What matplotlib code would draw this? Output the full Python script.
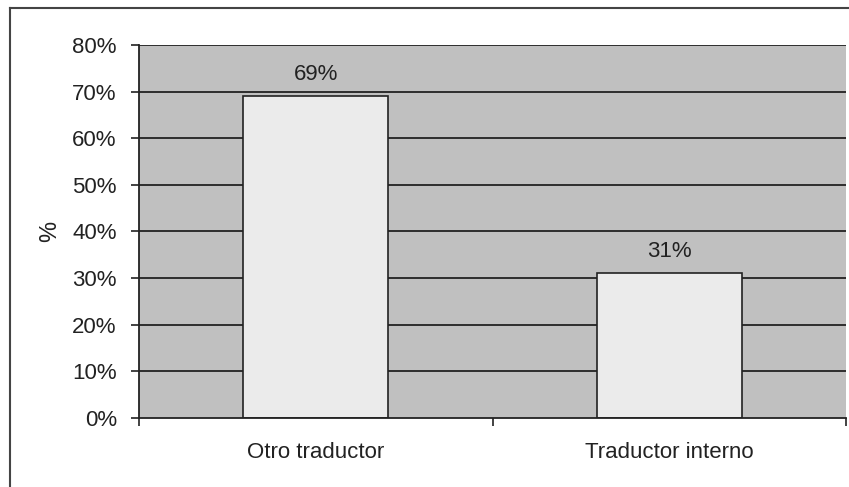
import matplotlib.pyplot as plt
from matplotlib.lines import Line2D
from matplotlib.ticker import FixedLocator, FuncFormatter

categories = ["Otro traductor", "Traductor interno"]
shares = [69, 31]
y_ticks = [0, 10, 20, 30, 40, 50, 60, 70, 80]

plt.rcParams["font.family"] = ["Liberation Sans", "DejaVu Sans"]
FS = 16
INK = "#222222"

fig = plt.figure(figsize=(8.49, 4.87), dpi=100)
ax = fig.add_axes([139 / 849, 1 - 418 / 487, 707 / 849, 373 / 487])
ax.set_facecolor("#c0c0c0")

# outer frame (left and top edges only)
fig.add_artist(Line2D([10 / 849, 10 / 849], [0, 1 - 8 / 487],
                      transform=fig.transFigure, color="#444444", lw=1.5))
fig.add_artist(Line2D([10 / 849, 1], [1 - 8 / 487, 1 - 8 / 487],
                      transform=fig.transFigure, color="#444444", lw=1.5))

x = list(range(len(categories)))
ax.set_xlim(-0.5, len(categories) - 0.5)
ax.set_ylim(0, 80)

for t in y_ticks[1:]:
    ax.axhline(t, color="#222222", lw=1.3, zorder=1)

bars = ax.bar(x, shares, width=0.41, color="#ebebeb", edgecolor="#222222",
              linewidth=1.2, zorder=2)
for b, v in zip(bars, shares):
    ax.annotate(f"{v}%", (b.get_x() + b.get_width() / 2, v),
                xytext=(0, 8), textcoords="offset points", ha="center",
                va="bottom", fontsize=FS, color=INK)

ax.yaxis.set_major_locator(FixedLocator(y_ticks))
ax.yaxis.set_major_formatter(FuncFormatter(lambda v, _: f"{v:.0f}%"))
ax.set_xticks(x)
ax.set_xticklabels(categories)
ax.xaxis.set_minor_locator(FixedLocator([-0.5, 0.5, 1.5]))
ax.tick_params(axis="x", which="major", length=0, pad=17, labelsize=FS,
               colors=INK)
ax.tick_params(axis="x", which="minor", length=6, width=1.2, direction="out",
               color="#222222")
ax.tick_params(axis="y", length=6, width=1.2, direction="out", pad=10,
               labelsize=FS, colors=INK)
ax.tick_params(axis="y", color="#222222")
ax.set_ylabel("%", fontsize=FS + 1, color=INK, labelpad=8)

for side in ["top", "right"]:
    ax.spines[side].set_visible(False)
for side in ["left", "bottom"]:
    ax.spines[side].set_color("#222222")
    ax.spines[side].set_linewidth(1.3)

fig.savefig("out.png", dpi=100)
